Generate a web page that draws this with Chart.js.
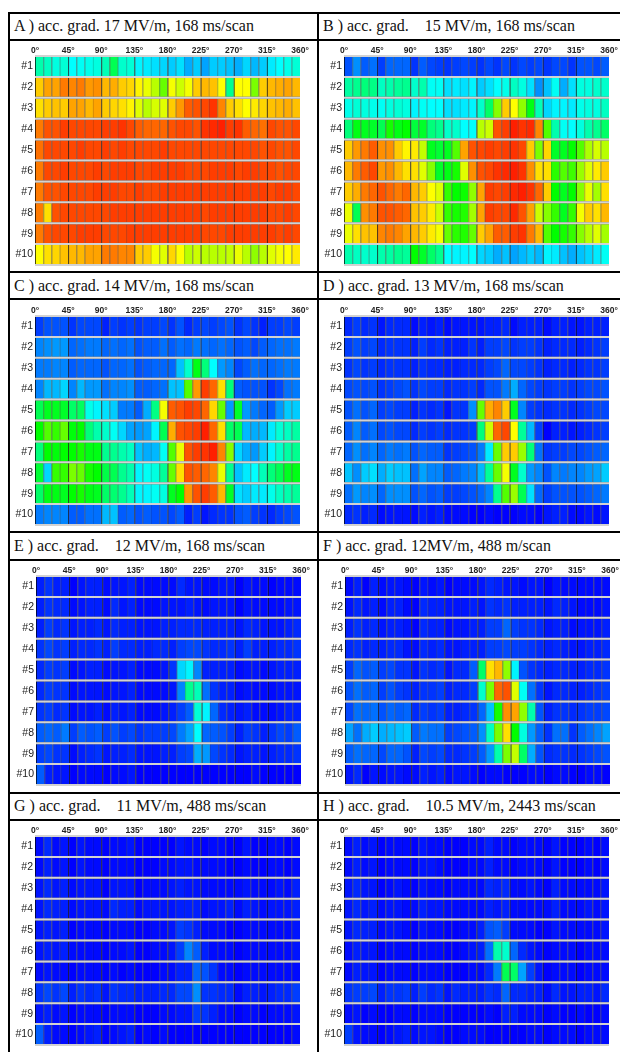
<!DOCTYPE html>
<html><head><meta charset="utf-8">
<script src="https://cdn.jsdelivr.net/npm/chart.js@4"></script>
<style>
html,body{margin:0;padding:0;background:#fff;width:620px;height:1052px;overflow:hidden}
.ln{position:absolute;background:#000}
.ttl{position:absolute;font-family:"Liberation Serif",serif;font-size:16px;line-height:18px;white-space:pre;color:#111}
canvas{position:absolute}
</style></head><body>
<script>
const rowLabels=["#1","#2","#3","#4","#5","#6","#7","#8","#9","#10"];
const angleTicks=[0,45,90,135,180,225,270,315,360];
const binDegrees=11.25;
const fullTurn=360;
const titles=["A ) acc. grad. 17 MV/m, 168 ms/scan","B ) acc. grad.    15 MV/m, 168 ms/scan","C ) acc. grad. 14 MV/m, 168 ms/scan","D ) acc. grad. 13 MV/m, 168 ms/scan","E ) acc. grad.    12 MV/m, 168 ms/scan","F ) acc. grad. 12MV/m, 488 m/scan","G ) acc. grad.    11 MV/m, 488 ms/scan","H ) acc. grad.    10.5 MV/m, 2443 ms/scan"];
const panelA=[
[33,31,28,29, 25,26,27,28, 32,42,30,29, 24,23,22,21, 20,22,17,20, 16,20,20,19, 17,21,18,20, 23,25,27,29],
[80,84,84,88, 87,88,85,86, 82,83,80,79, 76,73,68,60, 74,70,74,80, 82,81,75,36, 75,75,62,80, 82,83,84,82],
[78,80,81,80, 84,84,82,84, 80,79,78,76, 72,68,71,72, 80,85,91,92, 93,95,87,80, 78,75,77,79, 81,82,83,81],
[88,92,92,94, 93,93,93,93, 94,94,95,93, 91,90,90,90, 92,93,93,92, 95,96,97,94, 95,91,90,89, 93,92,92,93],
[89,93,93,93, 93,94,93,93, 94,93,94,93, 93,93,93,94, 93,93,93,93, 93,93,93,93, 93,93,93,92, 93,92,92,93],
[88,93,93,94, 93,93,93,94, 93,94,94,94, 93,93,94,94, 94,94,93,93, 93,94,94,94, 93,94,94,93, 93,92,93,93],
[88,92,92,93, 93,93,93,94, 94,94,93,93, 94,93,93,94, 94,94,94,94, 94,94,94,94, 94,94,94,94, 93,94,94,93],
[88,78,92,93, 93,93,93,93, 93,94,94,94, 94,94,94,94, 94,94,94,94, 93,94,94,94, 94,94,94,94, 93,93,94,93],
[88,92,93,93, 93,94,94,94, 93,93,93,94, 94,94,94,94, 94,94,94,94, 93,93,93,94, 94,94,94,94, 94,93,94,93],
[75,78,79,81, 82,82,84,84, 88,88,87,87, 80,80,74,72, 79,75,68,70, 68,68,68,69, 73,68,64,68, 72,74,75,77]];
const panelB=[
[8,14,9,11, 6,10,10,10, 5,9,7,6, 5,6,7,6, 5,7,5,7, 5,7,6,7, 5,7,7,5, 8,8,7,9],
[34,36,38,37, 31,33,35,36, 30,33,26,26, 22,23,22,24, 20,22,25,27, 31,28,22,14, 19,26,17,22, 28,28,30,30],
[27,29,28,27, 26,28,29,28, 24,26,25,25, 22,22,23,24, 30,40,63,80, 75,64,48,32, 21,24,24,23, 27,28,28,31],
[38,48,47,46, 42,52,48,50, 44,46,38,36, 30,30,25,25, 68,70,92,94, 97,95,96,87, 58,33,26,25, 28,33,36,40],
[80,85,88,91, 86,86,80,76, 77,69,47,45, 47,58,84,92, 93,94,93,94, 95,93,80,62, 79,46,47,50, 58,67,71,68],
[82,88,91,93, 85,86,82,78, 78,72,63,46, 48,52,72,86, 92,93,95,96, 97,95,86,78, 78,54,58,56, 65,72,77,80],
[80,83,88,90, 92,90,88,90, 82,80,75,72, 55,50,51,64, 84,94,93,94, 96,97,95,90, 80,50,47,50, 63,73,66,78],
[73,42,86,88, 92,92,91,90, 81,80,77,70, 55,52,53,66, 84,94,93,93, 96,92,84,70, 63,55,47,55, 74,80,78,82],
[73,78,81,81, 87,88,87,84, 82,80,77,74, 60,54,53,60, 80,84,91,91, 94,95,88,82, 58,50,52,55, 63,68,72,66],
[33,31,30,30, 33,34,36,35, 50,46,40,36, 25,24,24,25, 21,20,17,19, 16,18,20,18, 24,23,19,17, 19,21,23,26]];
const panelC=[
[6,8,8,8, 5,7,7,7, 3,6,5,6, 5,6,6,7, 5,8,4,6, 7,6,7,8, 5,7,5,3, 6,6,7,6],
[13,14,15,15, 10,11,12,12, 10,11,10,11, 8,9,9,11, 9,11,10,12, 11,10,11,10, 8,9,7,9, 10,11,11,12],
[12,12,13,13, 9,10,10,10, 8,10,10,11, 8,9,10,10, 10,19,30,48, 38,25,15,13, 7,9,11,10, 10,11,12,12],
[13,18,18,21, 13,18,15,15, 11,13,13,14, 9,9,10,11, 19,19,58,85, 94,90,78,38, 9,8,8,8, 5,7,11,12],
[42,47,47,46, 40,41,27,24, 22,20,12,12, 9,17,37,74, 91,92,94,93, 90,79,60,15, 46,15,12,10, 9,15,20,20],
[50,58,55,60, 49,50,38,33, 30,26,21,16, 15,16,24,42, 83,92,93,94, 97,90,78,40, 42,18,17,18, 23,29,31,34],
[38,50,49,50, 50,52,48,48, 36,36,33,31, 19,17,18,26, 58,73,92,94, 95,97,87,63, 21,17,15,20, 24,30,34,36],
[45,21,55,55, 62,60,52,50, 43,42,36,33, 24,26,28,35, 60,78,92,91, 90,87,73,36, 19,23,25,32, 38,42,47,48],
[40,48,48,47, 50,52,48,47, 40,39,36,32, 24,24,26,28, 47,50,85,92, 94,91,82,46, 22,20,23,23, 27,31,33,35],
[12,13,13,13, 9,9,11,11, 18,19,9,10, 8,9,8,8, 7,9,3,6, 2,4,5,5, 8,9,6,5, 4,6,7,8]];
const panelD=[
[4,6,4,5, 2,4,4,4, 1,3,2,3, 1,2,2,2, 2,3,3,4, 1,3,3,3, 1,3,3,2, 2,3,3,3],
[6,8,6,7, 4,5,5,5, 3,6,4,5, 3,3,3,5, 3,6,6,7, 5,6,6,5, 3,4,4,4, 3,4,5,6],
[5,7,5,6, 4,5,5,5, 3,5,4,4, 3,3,4,4, 4,6,7,10, 7,7,6,5, 3,4,4,3, 4,5,5,6],
[7,8,7,8, 5,6,7,8, 5,7,6,6, 4,5,5,6, 4,8,8,12, 17,10,7,6, 5,6,6,5, 6,7,7,8],
[8,11,8,10, 6,7,6,6, 3,5,4,5, 2,5,5,14, 60,83,87,80, 47,13,6,5, 4,5,5,4, 5,6,7,7],
[9,13,9,11, 7,8,7,7, 4,6,5,6, 4,5,5,6, 38,70,90,93, 75,35,18,6, 0,3,3,2, 3,4,5,6],
[10,14,11,13, 10,12,11,12, 8,10,9,9, 5,6,7,8, 12,23,60,80, 80,65,38,11, 5,6,6,7, 7,8,9,10],
[19,14,20,22, 17,20,19,19, 11,16,13,13, 9,10,12,13, 18,35,60,74, 47,30,15,13, 8,13,12,13, 13,15,16,20],
[11,15,13,14, 10,14,14,14, 8,10,8,9, 6,6,7,8, 10,13,36,58, 65,42,22,10, 6,8,8,8, 8,9,10,12],
[4,5,3,4, 1,2,2,2, 1,3,2,3, 1,1,1,0, 0,1,0,0, 0,1,1,0, 2,3,3,1, 1,2,1,2]];
const panelE=[
[3,5,3,3, 0,2,3,3, 1,2,2,3, 1,1,1,1, 1,4,2,2, 1,1,2,2, 0,2,1,1, 0,1,1,1],
[3,5,4,4, 1,2,3,3, 1,4,2,3, 1,1,1,2, 2,2,3,2, 1,2,2,2, 0,2,1,1, 1,1,2,2],
[3,6,4,5, 2,3,3,4, 2,4,3,3, 2,2,2,3, 3,4,4,4, 3,3,3,3, 2,4,3,2, 2,2,3,4],
[5,7,5,6, 3,4,4,5, 3,6,4,4, 3,3,4,4, 3,6,7,7, 5,4,4,5, 3,6,3,3, 3,4,4,5],
[4,6,5,6, 1,2,3,3, 1,2,2,3, 1,1,1,2, 5,21,24,13, 3,3,3,3, 1,2,2,1, 2,3,3,3],
[4,6,5,5, 1,2,2,2, 1,2,2,3, 1,1,1,1, 2,13,36,32, 11,5,3,3, 1,2,1,1, 1,2,2,2],
[5,6,4,5, 1,2,2,3, 1,3,2,3, 1,1,1,2, 3,6,9,29, 24,10,4,3, 2,3,1,1, 1,2,3,3],
[9,10,9,12, 6,9,8,9, 6,8,6,7, 5,6,6,6, 7,12,16,25, 10,9,8,6, 3,6,5,3, 5,7,6,9],
[6,7,5,5, 1,3,4,5, 2,3,3,4, 2,2,2,3, 3,6,7,17, 15,7,5,4, 2,3,3,2, 3,4,4,5],
[9,3,2,2, 0,1,1,1, 0,1,1,2, 0,0,0,0, 0,0,0,0, 0,0,0,0, 0,0,1,0, 0,0,0,0]];
const panelF=[
[1,3,0,3, 1,2,2,1, 0,2,1,2, 0,1,1,1, 2,4,3,2, 2,1,2,2, 0,2,1,1, 1,1,1,1],
[2,4,2,3, 1,3,3,1, 0,4,3,3, 2,2,2,3, 2,5,4,5, 3,3,3,3, 2,4,3,2, 1,1,1,2],
[3,5,3,4, 2,3,3,2, 0,4,3,3, 1,2,2,3, 3,6,6,10, 6,5,5,4, 2,3,3,1, 2,2,2,3],
[4,5,3,4, 3,4,4,2, 1,4,3,4, 2,2,3,3, 3,6,6,7, 6,6,5,4, 3,4,3,2, 2,3,3,4],
[6,10,8,9, 6,7,5,5, 2,5,4,5, 2,4,4,9, 40,78,82,64, 24,8,5,4, 3,4,4,3, 3,4,4,5],
[8,11,9,10, 6,8,6,5, 3,5,5,6, 3,4,4,6, 30,62,90,92, 72,26,11,5, 2,4,4,3, 3,4,5,6],
[7,11,10,11, 8,10,9,10, 4,6,5,6, 3,3,4,5, 10,19,52,86, 84,64,33,8, 3,5,5,4, 5,6,6,7],
[16,11,17,20, 17,18,19,20, 9,12,11,11, 6,7,8,9, 14,31,62,78, 50,28,15,9, 5,11,11,5, 9,11,13,16],
[9,11,10,10, 7,10,10,8, 3,7,6,7, 4,4,5,6, 9,15,33,62, 69,40,17,8, 4,5,5,4, 5,6,7,8],
[2,4,0,2, 1,2,2,1, 1,3,2,3, 1,2,2,1, 0,1,1,0, 0,0,1,1, 0,1,1,0, 0,1,1,0]];
const panelG=[
[1,4,1,2, 0,2,1,1, 0,1,1,2, 0,0,0,0, 0,2,1,1, 0,1,1,0, 0,2,0,0, 1,1,0,1],
[1,3,1,2, 0,2,1,1, 0,1,1,1, 0,0,0,1, 1,2,2,1, 1,1,1,0, 0,1,0,0, 1,1,0,1],
[2,4,2,3, 1,2,2,2, 0,2,2,2, 0,1,1,1, 2,3,2,2, 1,1,1,1, 1,2,1,1, 1,2,1,3],
[2,4,3,3, 1,2,2,2, 1,4,3,3, 1,2,2,2, 2,3,3,3, 1,2,2,3, 1,3,2,1, 2,2,2,3],
[2,3,2,3, 0,1,1,1, 0,1,1,1, 0,0,1,1, 2,6,5,3, 1,1,1,0, 0,1,1,1, 1,1,1,2],
[2,3,2,3, 1,1,1,1, 0,1,1,2, 0,0,1,1, 2,6,13,9, 3,1,1,1, 0,1,1,1, 1,1,1,2],
[1,2,1,1, 0,1,1,1, 0,1,0,1, 0,0,0,1, 1,3,3,10, 8,5,1,1, 0,1,1,1, 1,1,1,1],
[5,7,5,7, 3,5,4,5, 2,5,4,4, 3,3,3,4, 4,7,7,14, 5,5,4,4, 1,3,3,2, 3,4,4,6],
[2,3,1,2, 0,1,1,1, 0,1,1,1, 0,0,0,1, 1,2,2,6, 5,3,1,1, 0,1,1,0, 1,1,1,2],
[9,3,1,1, 0,1,2,3, 0,1,2,3, 0,1,0,1, 0,0,0,0, 0,0,0,0, 0,0,0,0, 0,0,0,1]];
const panelH=[
[1,3,1,2, 0,1,1,1, 0,2,1,1, 0,0,0,1, 1,3,1,1, 0,1,1,1, 0,2,0,0, 0,1,0,1],
[1,3,1,2, 0,1,1,1, 0,2,2,1, 0,0,0,1, 1,3,1,1, 0,1,1,1, 0,2,0,0, 0,1,0,1],
[2,4,2,2, 0,1,2,1, 0,2,1,1, 0,1,1,1, 1,4,3,4, 1,1,2,1, 0,3,1,1, 1,1,1,2],
[2,4,2,3, 1,2,2,1, 1,3,2,2, 1,1,1,1, 1,3,2,3, 1,1,1,1, 1,3,1,1, 1,2,1,2],
[2,4,3,3, 1,2,2,1, 0,2,1,1, 0,0,1,1, 3,8,9,6, 1,1,1,0, 0,2,1,1, 1,1,1,2],
[1,3,2,2, 0,1,1,1, 0,1,1,1, 0,0,1,2, 3,11,33,30, 10,4,2,1, 0,1,1,1, 0,1,1,1],
[1,3,2,2, 0,1,1,1, 0,1,1,1, 0,0,0,1, 1,4,12,42, 40,16,6,2, 0,1,1,1, 0,1,1,1],
[5,6,6,7, 3,5,5,6, 3,6,4,5, 2,4,3,3, 3,5,4,10, 4,4,3,3, 1,4,2,2, 3,3,2,4],
[1,2,0,1, 0,0,1,1, 0,1,1,1, 0,0,0,0, 0,1,0,3, 3,1,1,1, 0,1,0,0, 1,0,0,1],
[6,2,1,1, 0,1,2,3, 1,2,2,1, 0,0,1,1, 1,0,0,0, 0,0,1,1, 0,1,1,1, 0,1,1,1]];
const panels=[panelA,panelB,panelC,panelD,panelE,panelF,panelG,panelH];

// placement of each panel on the page: [plot left, plot top, title left, title top]
const placement=[[35,56,14,17],[344,56,323,17],[35,316,14,277],[344,316,323,277],[36,576,14,537],[345,576,323,537],[35,836,14,797],[344,836,323,797]];

function heatColor(v){return `hsl(${240*(1-v/100)},100%,50%)`;}
function edgeColor(v,i){return i%4===0?`hsl(${240*(1-v/100)},100%,15%)`:`hsl(${240*(1-v/100)},100%,44%)`;}
function ln(x,y,w,h){const d=document.createElement('div');d.className='ln';d.style.cssText=`left:${x}px;top:${y}px;width:${w}px;height:${h}px`;document.body.appendChild(d);}
ln(8,12,612,2);ln(8,39,612,2);ln(8,271,612,2);ln(8,298,612,2);ln(8,531,612,2);ln(8,559,612,2);ln(8,792,612,2);ln(8,819,612,2);
ln(8,12,2,1040);ln(317,12,2,1040);

const W=265,LEFT=27,TOP=12,H=209,RIGHT=14;
panels.forEach((panel,p)=>{
  const [px,py,tx,ty]=placement[p];
  const t=document.createElement('div');t.className='ttl';t.textContent=titles[p];t.style.left=tx+'px';t.style.top=ty+'px';document.body.appendChild(t);
  const c=document.createElement('canvas');
  c.style.left=(px-LEFT)+'px';c.style.top=(py-TOP)+'px';
  c.style.width=(LEFT+W+RIGHT)+'px';c.style.height=(TOP+H+2)+'px';
  c.width=LEFT+W+RIGHT;c.height=TOP+H+2;
  document.body.appendChild(c);
  const datasets=panel[0].map((_,i)=>({
    label:(i*binDegrees)+'°',
    data:rowLabels.map(()=>binDegrees),
    backgroundColor:panel.map(r=>heatColor(r[i])),
    borderColor:panel.map(r=>edgeColor(r[i],i)),
    borderWidth:{left:1,right:0,top:0,bottom:0},
    borderSkipped:false,
    barPercentage:1,categoryPercentage:0.905,
    grouped:false,stack:'row'
  }));
  // grey backing band behind each row, so that the joins between cells never show white
  datasets.push({label:'row',data:rowLabels.map(()=>fullTurn),backgroundColor:'#6e6e6e',borderWidth:0,
    barPercentage:1,categoryPercentage:0.905,grouped:false,stack:'base'});
  const noPad=s=>{s.paddingLeft=0;s.paddingRight=0;s.paddingTop=0;s.paddingBottom=0;};
  new Chart(c,{type:'bar',data:{labels:rowLabels,datasets},options:{
    indexAxis:'y',responsive:false,animation:false,devicePixelRatio:1,
    layout:{padding:{left:0,right:RIGHT,top:0,bottom:2}},
    plugins:{legend:{display:false},tooltip:{enabled:false},title:{display:false}},
    scales:{
      x:{type:'linear',position:'top',stacked:true,min:0,max:360,
        afterBuildTicks:s=>{s.ticks=angleTicks.map(v=>({value:v}));},
        afterFit:s=>{s.height=TOP;noPad(s);},
        grid:{display:false,drawTicks:false},border:{display:false},
        ticks:{autoSkip:false,maxRotation:0,padding:0,color:'#222',font:{family:'"Liberation Sans"',size:8.5,weight:'bold'},callback:v=>v+'°'}},
      y:{type:'category',stacked:true,
        afterFit:s=>{s.width=LEFT;noPad(s);},
        grid:{display:true,drawTicks:false,color:'#d2d2d2',lineWidth:2,z:0},border:{display:false},
        ticks:{autoSkip:false,padding:2,color:'#222',font:{family:'"Liberation Sans"',size:10.5}}}
    }
  }});
});
</script>
</body></html>
